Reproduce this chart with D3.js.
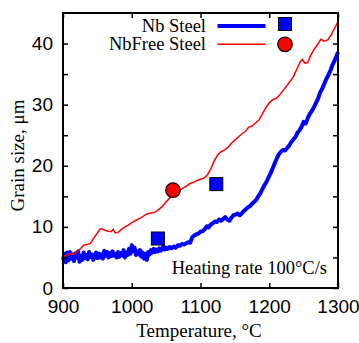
<!DOCTYPE html>
<html>
<head>
<meta charset="utf-8">
<script src="https://cdn.jsdelivr.net/npm/d3@7"></script>
<style>
  body { margin: 0; background: #fff; }
  svg { display: block; font-family: "Liberation Serif", "Times New Roman", serif; }
</style>
</head>
<body>
<svg id="chart"></svg>
<script>
const width = 359;
const height = 343;
const marginTop = 13;
const marginRight = 21;
const marginBottom = 55;
const marginLeft = 63;

// Nb Steel curve (temperature °C, grain size µm)
const nbSteel = [
  [900, 4.6], [902, 5.6], [904, 4.2], [906, 5.8], [908, 4.5], [910, 5.9], [912, 4.8], [914, 5.5],
  [916, 4.4], [918, 5.7], [920, 5.0], [922, 6.0], [924, 4.3], [926, 5.2], [928, 4.6], [930, 5.8],
  [932, 4.9], [934, 5.4], [936, 4.7], [938, 5.9], [940, 5.1], [942, 5.5], [944, 4.6], [946, 5.3],
  [948, 5.8], [950, 4.9], [952, 5.6], [954, 5.0], [956, 5.5], [958, 4.8], [960, 6.1], [962, 5.3],
  [964, 5.9], [966, 5.0], [968, 5.7], [970, 5.2], [972, 6.0], [974, 5.3], [976, 5.6], [978, 5.0],
  [980, 5.9], [982, 5.1], [984, 5.7], [986, 5.3], [988, 6.2], [990, 5.0], [992, 5.8], [994, 5.4],
  [996, 6.4], [998, 5.6], [1000, 7.0], [1002, 6.0], [1004, 6.6], [1006, 5.4], [1008, 6.0], [1010, 5.5],
  [1012, 6.2], [1014, 5.1], [1016, 5.8], [1018, 4.8], [1020, 5.6], [1022, 4.6], [1024, 5.9], [1026, 5.5],
  [1028, 6.2], [1030, 5.8], [1032, 6.4], [1034, 5.9], [1036, 6.3], [1038, 6.0], [1040, 6.5], [1042, 6.1],
  [1044, 6.4], [1046, 6.8], [1048, 6.3], [1050, 6.6], [1052, 6.4], [1055, 6.7], [1058, 6.5], [1061, 6.8],
  [1064, 6.6], [1067, 7.0], [1070, 6.9], [1073, 7.2], [1076, 7.1], [1079, 7.3], [1082, 7.5], [1085, 7.4],
  [1088, 8.3], [1091, 8.6], [1094, 8.8], [1097, 8.9], [1100, 9.2], [1103, 9.3], [1106, 9.6], [1109, 10.1],
  [1112, 9.9], [1115, 10.4], [1118, 10.6], [1121, 10.9], [1124, 10.8], [1127, 11.2], [1130, 11.0],
  [1133, 11.3], [1136, 11.6], [1139, 11.2], [1142, 11.0], [1145, 11.5], [1148, 11.9], [1151, 12.0],
  [1154, 12.2], [1157, 11.9], [1160, 12.2], [1163, 12.6], [1166, 12.9], [1169, 13.2], [1172, 13.4],
  [1175, 13.8], [1178, 14.1], [1181, 14.4], [1184, 15.0], [1187, 15.5], [1190, 16.2], [1193, 16.8],
  [1196, 17.4], [1199, 18.1], [1202, 18.8], [1205, 19.6], [1208, 20.4], [1211, 21.2], [1214, 21.9],
  [1217, 22.3], [1220, 22.6], [1223, 22.5], [1226, 22.9], [1229, 23.3], [1232, 23.9], [1235, 24.3],
  [1238, 24.7], [1241, 25.4], [1244, 25.8], [1247, 26.4], [1250, 27.2], [1253, 26.9], [1256, 27.8],
  [1259, 28.5], [1262, 29.0], [1265, 29.6], [1268, 30.3], [1271, 31.0], [1274, 32.0], [1277, 32.6],
  [1280, 33.4], [1283, 34.2], [1286, 34.8], [1289, 35.6], [1292, 36.5], [1295, 37.2], [1298, 38.0],
  [1300, 38.6]
];

// NbFree Steel curve
const nbFreeSteel = [
  [900, 5.2], [905, 5.3], [910, 5.6], [915, 5.5], [920, 5.9], [925, 6.4], [930, 7.0], [935, 7.1],
  [940, 7.3], [945, 8.2], [950, 9.0], [954, 9.7], [958, 9.6], [962, 9.4], [966, 9.3], [970, 9.2],
  [973, 9.6], [976, 9.0], [980, 9.1], [985, 9.6], [990, 10.0], [995, 10.3], [1000, 10.7], [1005, 11.0],
  [1010, 11.3], [1015, 11.6], [1020, 12.0], [1025, 12.2], [1030, 12.3], [1035, 12.5], [1040, 12.9],
  [1045, 13.4], [1050, 14.1], [1055, 14.7], [1060, 15.3], [1065, 15.6], [1070, 16.0], [1075, 16.4],
  [1080, 16.7], [1085, 17.1], [1090, 17.3], [1095, 17.6], [1100, 17.8], [1105, 18.0], [1110, 18.5],
  [1115, 19.5], [1120, 20.8], [1125, 21.8], [1130, 22.3], [1135, 22.6], [1140, 23.0], [1145, 23.7],
  [1150, 24.2], [1155, 24.7], [1160, 25.2], [1165, 25.6], [1170, 26.3], [1175, 26.5], [1180, 27.0],
  [1185, 27.5], [1190, 28.5], [1195, 29.5], [1200, 30.3], [1205, 30.8], [1210, 31.0], [1215, 31.6],
  [1220, 32.3], [1225, 33.0], [1230, 33.8], [1235, 34.5], [1240, 35.8], [1245, 37.0], [1248, 37.4],
  [1252, 36.8], [1256, 36.9], [1260, 38.0], [1265, 39.0], [1270, 39.8], [1275, 40.7], [1280, 40.4],
  [1285, 40.6], [1290, 41.4], [1295, 42.5], [1300, 43.6]
];

// measured points
const nbPoints = [[1038, 8.1], [1123, 17.0]];
const nbFreePoints = [[1060, 16.0]];

const xTicks = [900, 1000, 1100, 1200, 1300];
const yTicks = [0, 5, 10, 15, 20, 25, 30, 35, 40];

const svg = d3.select("#chart").attr("width", width).attr("height", height);

const x = d3.scaleLinear().domain([900, 1300]).range([marginLeft, width - marginRight]);
const y = d3.scaleLinear().domain([0, 45]).range([height - marginBottom, marginTop]);

const line = d3.line().x(d => x(d[0])).y(d => y(d[1]));

// 曲线
svg.append("path")
  .datum(nbSteel)
  .attr("fill", "none")
  .attr("stroke", "#0000ff")
  .attr("stroke-width", 4)
  .attr("stroke-linejoin", "round")
  .attr("d", line);

svg.append("path")
  .datum(nbFreeSteel)
  .attr("fill", "none")
  .attr("stroke", "#ff0000")
  .attr("stroke-width", 1.5)
  .attr("d", line);

// 数据点
svg.selectAll(".sq")
  .data(nbPoints)
  .join("rect")
  .attr("x", d => x(d[0]) - 6.5)
  .attr("y", d => y(d[1]) - 6.5)
  .attr("width", 13)
  .attr("height", 13)
  .attr("fill", "#0000ff")
  .attr("stroke", "#000")
  .attr("stroke-width", 1);

svg.selectAll(".ci")
  .data(nbFreePoints)
  .join("circle")
  .attr("cx", d => x(d[0]))
  .attr("cy", d => y(d[1]))
  .attr("r", 7.3)
  .attr("fill", "#ff0000")
  .attr("stroke", "#000")
  .attr("stroke-width", 1.2);

// 坐标轴 (inward ticks on all sides)
const fs = "19px";
svg.append("g")
  .attr("transform", `translate(0,${height - marginBottom})`)
  .call(d3.axisBottom(x).tickValues(xTicks).tickSizeInner(-5).tickSizeOuter(0).tickPadding(12)
    .tickFormat(d3.format("d")))
  .call(g => g.select(".domain").remove())
  .call(g => g.selectAll("line").attr("stroke-width", 1.5))
  .selectAll("text").style("font-size", fs).attr("fill", "#000");

svg.append("g")
  .attr("transform", `translate(0,${marginTop})`)
  .call(d3.axisTop(x).tickValues(xTicks).tickSizeInner(-5).tickSizeOuter(0).tickFormat(""))
  .call(g => g.select(".domain").remove())
  .call(g => g.selectAll("line").attr("stroke-width", 1.5));

svg.append("g")
  .attr("transform", `translate(${marginLeft},0)`)
  .call(d3.axisLeft(y).tickValues(yTicks).tickSizeInner(-5).tickSizeOuter(0).tickPadding(10)
    .tickFormat(d => d % 10 === 0 ? d : ""))
  .call(g => g.select(".domain").remove())
  .call(g => g.selectAll("line").attr("stroke-width", 1.5))
  .selectAll("text").style("font-size", fs).attr("fill", "#000");

svg.append("g")
  .attr("transform", `translate(${width - marginRight},0)`)
  .call(d3.axisRight(y).tickValues(yTicks).tickSizeInner(-5).tickSizeOuter(0).tickFormat(""))
  .call(g => g.select(".domain").remove())
  .call(g => g.selectAll("line").attr("stroke-width", 1.5));

// 边框
svg.append("rect")
  .attr("x", marginLeft)
  .attr("y", marginTop)
  .attr("width", width - marginLeft - marginRight)
  .attr("height", height - marginTop - marginBottom)
  .attr("fill", "none")
  .attr("stroke", "#000")
  .attr("stroke-width", 2);

// 轴标题
svg.append("text")
  .attr("x", 199)
  .attr("y", 336.5)
  .attr("text-anchor", "middle")
  .style("font-size", fs)
  .text("Temperature, °C");

svg.append("text")
  .attr("transform", "translate(24,155.5) rotate(-90)")
  .attr("text-anchor", "middle")
  .style("font-size", fs)
  .text("Grain size, μm");

// 图例
const legend = [
  { name: "Nb Steel", color: "#0000ff", w: 4, shape: "square", ty: 31.7, ly: 26 },
  { name: "NbFree Steel", color: "#ff0000", w: 1.5, shape: "circle", ty: 50, ly: 44.3 }
];
legend.forEach(l => {
  svg.append("text")
    .attr("x", 206)
    .attr("y", l.ty)
    .attr("text-anchor", "end")
    .style("font-size", "18.5px")
    .text(l.name);
  svg.append("line")
    .attr("x1", 217.5).attr("x2", 265.5)
    .attr("y1", l.ly).attr("y2", l.ly)
    .attr("stroke", l.color)
    .attr("stroke-width", l.w);
  if (l.shape === "square") {
    svg.append("rect")
      .attr("x", 285 - 6.5).attr("y", 24 - 6.5)
      .attr("width", 13).attr("height", 13)
      .attr("fill", l.color).attr("stroke", "#000").attr("stroke-width", 1);
  } else {
    svg.append("circle")
      .attr("cx", 285).attr("cy", l.ly).attr("r", 7.3)
      .attr("fill", l.color).attr("stroke", "#000").attr("stroke-width", 1.2);
  }
});

svg.append("text")
  .attr("x", 327)
  .attr("y", 273.5)
  .attr("text-anchor", "end")
  .style("font-size", "18.5px")
  .text("Heating rate 100°C/s");
</script>
</body>
</html>
